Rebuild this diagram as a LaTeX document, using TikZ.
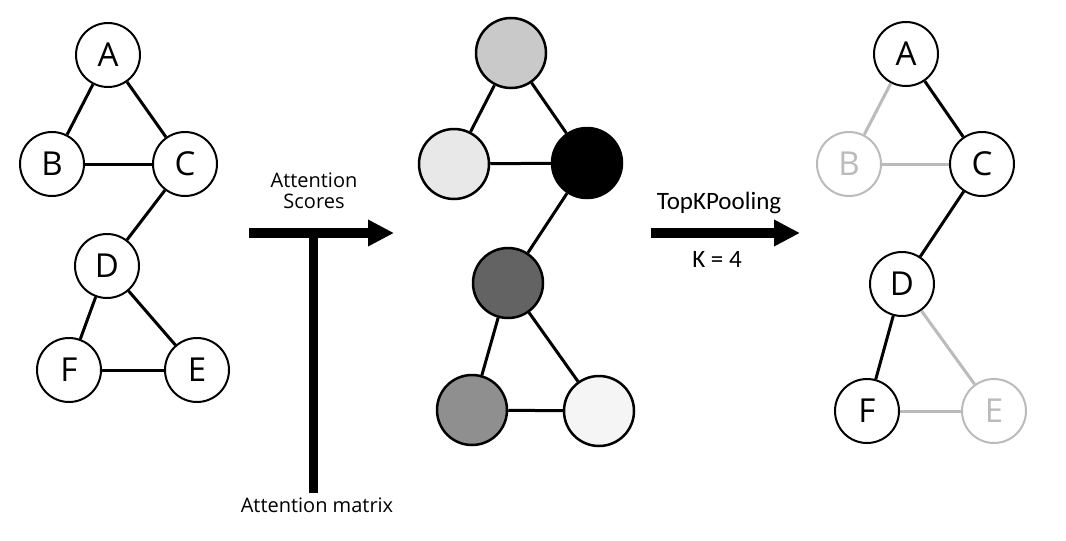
\documentclass[tikz,border=0pt]{standalone}
\usepackage{fontspec}
\setmainfont{Open Sans}
\newfontfamily\carlitofont{Carlito}
\usetikzlibrary{arrows.meta}
\definecolor{faded}{HTML}{BBBBBB}
\begin{document}
\begin{tikzpicture}[x=1pt,y=-1pt,
  vtx/.style={circle,draw=black,line width=2pt,minimum size=64pt,inner sep=0pt,fill=white,font=\fontsize{33}{34}\selectfont},
  mvtx/.style={circle,draw=black,line width=2.5pt,minimum size=70pt,inner sep=0pt},
  fadedvtx/.style={vtx,draw=faded,text=faded},
  edge/.style={line width=3pt,draw=black},
  fadededge/.style={line width=3pt,draw=faded},
  bigarrow/.style={line width=10pt,-{Triangle[length=26pt,width=25pt]}},
  lbl/.style={font=\fontsize{20}{21}\selectfont,align=center},
  klbl/.style={font=\carlitofont\fontsize{25}{26}\selectfont}
]
\useasboundingbox (0,0) rectangle (1066,541);
\fill[white] (0,0) rectangle (1066,541);

% left graph
\node[vtx] (LA) at (108,55) {A};
\node[vtx] (LB) at (52,164) {B};
\node[vtx] (LC) at (185,164) {C};
\node[vtx] (LD) at (107,266) {D};
\node[vtx] (LF) at (69,370) {F};
\node[vtx] (LE) at (197,370) {E};
\draw[edge] (LA) -- (LB);
\draw[edge] (LA) -- (LC);
\draw[edge] (LB) -- (LC);
\draw[edge] (LC) -- (LD);
\draw[edge] (LD) -- (LF);
\draw[edge] (LD) -- (LE);
\draw[edge] (LF) -- (LE);

% attention arrow
\coordinate (a1s) at (249,233);
\coordinate (a1e) at (394,233);
\coordinate (bart) at (313,238);
\coordinate (barb) at (313,493);
\draw[bigarrow] (a1s) -- (a1e);
\draw[line width=9pt] (bart) -- (barb);
\node[lbl] (attsc) at (314,191) {Attention\\Scores};
\node[lbl,anchor=north] (attm) at (317,494) {Attention matrix};

% middle graph
\node[mvtx,fill=black!21] (MA) at (511,53) {};
\node[mvtx,fill=black!9] (MB) at (454,164) {};
\node[mvtx,fill=black] (MC) at (587,163) {};
\node[mvtx,fill=black!61] (MD) at (508,283) {};
\node[mvtx,fill=black!44] (MF) at (472,410) {};
\node[mvtx,fill=black!4] (ME) at (599,411) {};
\draw[edge] (MA) -- (MB);
\draw[edge] (MA) -- (MC);
\draw[edge] (MB) -- (MC);
\draw[edge] (MC) -- (MD);
\draw[edge] (MD) -- (MF);
\draw[edge] (MD) -- (ME);
\draw[edge] (MF) -- (ME);

% pooling arrow
\coordinate (a2s) at (651,233);
\coordinate (a2e) at (800,233);
\draw[bigarrow] (a2s) -- (a2e);
\node[klbl] (topk) at (719,203) {TopKPooling};
\node[klbl] (kval) at (717,259) {K = 4};

% right graph
\node[vtx] (RA) at (906,54) {A};
\node[fadedvtx] (RB) at (849,164) {B};
\node[vtx] (RC) at (982,164) {C};
\node[vtx] (RD) at (902,284) {D};
\node[vtx] (RF) at (867,411) {F};
\node[fadedvtx] (RE) at (994,411) {E};
\draw[fadededge] (RA) -- (RB);
\draw[edge] (RA) -- (RC);
\draw[fadededge] (RB) -- (RC);
\draw[edge] (RC) -- (RD);
\draw[edge] (RD) -- (RF);
\draw[fadededge] (RD) -- (RE);
\draw[fadededge] (RF) -- (RE);
\end{tikzpicture}
\end{document}
